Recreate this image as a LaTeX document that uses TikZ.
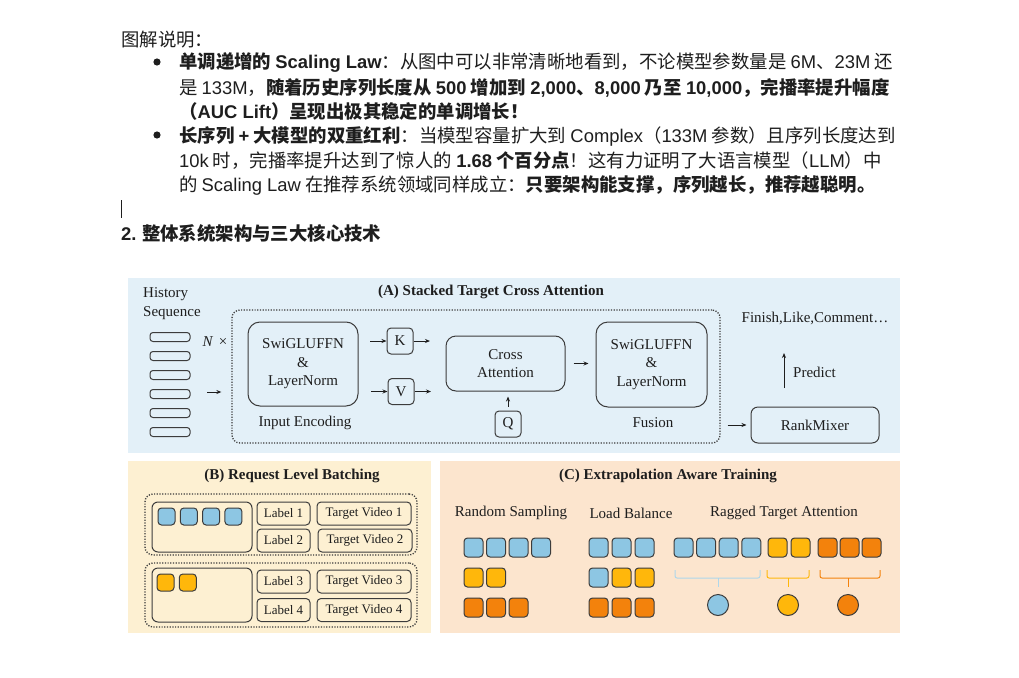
\documentclass[tikz,border=0pt]{standalone}
\usepackage{fontspec}
\setmainfont{Liberation Serif}
\newfontfamily\cjk{Noto Sans CJK SC}
\newfontfamily\lat{Liberation Sans}
\usetikzlibrary{arrows.meta}

\newcommand\la[1]{{\lat #1}}

\definecolor{paneA}{HTML}{E3F0F8}
\definecolor{paneB}{HTML}{FDF0D2}
\definecolor{paneC}{HTML}{FCE5CE}
\definecolor{tokblue}{HTML}{8DC6E3}
\definecolor{tokyellow}{HTML}{FFB70B}
\definecolor{tokorange}{HTML}{F3820C}
\definecolor{edge}{HTML}{3C3C3C}
\definecolor{ink}{HTML}{1E1E1E}

\tikzset{
  txt/.style={anchor=base west, inner sep=0pt, text=ink, font=\cjk\fontsize{18.4}{22}\selectfont},
  lbl/.style={inner sep=0pt, text=ink, align=center, font=\fontsize{15}{18.5}\selectfont},
  small/.style={inner sep=0pt, text=ink, font=\fontsize{13}{15}\selectfont},
  head/.style={inner sep=0pt, text=ink, font=\bfseries\fontsize{15}{18}\selectfont},
  blk/.style={draw=edge, line width=1pt, rounded corners=#1, inner sep=0pt},
  blk/.default=10pt,
  dotbox/.style={draw=edge, line width=1.3pt, dash pattern=on 1.2pt off 1.5pt, rounded corners=8pt, inner sep=0pt},
  tok/.style={fill=#1, draw=edge, line width=1pt, rounded corners=3.5pt},
  arr/.style={-{Stealth[length=5pt,width=4pt]}, line width=1pt, draw=ink},
  brace/.style={draw=#1, line width=1pt, rounded corners=2pt}
}

\begin{document}
\begin{tikzpicture}[x=1pt, y=-1pt]
\useasboundingbox (0,0) rectangle (1019,677);
\fill[white] (0,0) rectangle (1019,677);

% caption text
\node[txt] (cap) at (121,47) {图解说明：};
\fill[ink] (157,62) circle (3.6pt);
\node[txt] (b1a) at (179,69) {{\bfseries 单调递增的 \la{Scaling Law}}：从图中可以非常清晰地看到，不论模型参数量是 \la{6M}、\la{23M} 还};
\node[txt] (b1b) at (179,94) {是 \la{133M}，{\bfseries 随着历史序列长度从 \la{500} 增加到 \la{2,000}、\la{8,000} 乃至 \la{10,000}，完播率提升幅度}};
\node[txt] (b1c) at (179,118) {\bfseries （\la{AUC Lift}）呈现出极其稳定的单调增长！};
\fill[ink] (157,135) circle (3.6pt);
\node[txt] (b2a) at (179,142) {{\bfseries 长序列 \la{+} 大模型的双重红利}：当模型容量扩大到 \la{Complex}（\la{133M} 参数）且序列长度达到};
\node[txt] (b2b) at (179,167) {\la{10k} 时，完播率提升达到了惊人的 {\bfseries\la{1.68} 个百分点}！这有力证明了大语言模型（\la{LLM}）中};
\node[txt] (b2c) at (179,191) {的 \la{Scaling Law} 在推荐系统领域同样成立：{\bfseries 只要架构能支撑，序列越长，推荐越聪明。}};
\draw[ink, line width=1.6pt] (121.5,200) -- (121.5,218);
\node[txt, font=\cjk\bfseries\fontsize{18.4}{22}\selectfont] (sec) at (121,240) {\la{2.} 整体系统架构与三大核心技术};

% panel backgrounds
\fill[paneA] (128,278) rectangle (900,453);
\fill[paneB] (128,461) rectangle (431,633);
\fill[paneC] (440,461) rectangle (900,633);

% (A) stacked target cross attention
\node[head] (titleA) at (491,292) {(A) Stacked Target Cross Attention};
\node[lbl, anchor=west, align=left] (hist) at (143,303.5) {History\\Sequence};
\foreach \y in {337,356,375,394,413,432}
  \draw[edge, line width=1pt, rounded corners=3pt] (150,\y-4.5) rectangle (190,\y+4.5);
\node[lbl] (nx) at (215,342) {{\itshape N}\, ×};
\node[dotbox, minimum width=488pt, minimum height=133pt] (frame) at (476,376.5) {};
\node[blk=12pt, lbl, minimum width=110pt, minimum height=84pt] (swi1) at (303,364) {SwiGLUFFN\\\&\\LayerNorm};
\node[lbl] (enc) at (305,423) {Input Encoding};
\node[blk=4pt, lbl, minimum width=26pt, minimum height=26pt] (kbox) at (400,341) {K};
\node[blk=4pt, lbl, minimum width=26pt, minimum height=26pt] (vbox) at (401,391.5) {V};
\node[blk=10pt, lbl, minimum width=119pt, minimum height=55pt] (cross) at (505.5,363.5) {Cross\\Attention};
\node[blk=4pt, lbl, minimum width=26pt, minimum height=26pt] (qbox) at (508,424) {Q};
\node[blk=12pt, lbl, minimum width=111pt, minimum height=85pt] (swi2) at (651.5,364.5) {SwiGLUFFN\\\&\\LayerNorm};
\node[lbl] (fusion) at (653,423) {Fusion};
\node[blk=7pt, lbl, minimum width=128pt, minimum height=36pt] (rank) at (815,425) {RankMixer};
\node[lbl] (finish) at (815,318) {Finish,Like,Comment…};
\node[lbl, anchor=west] (predict) at (793,372) {Predict};
\coordinate (hin) at (207,392);
\coordinate (kin) at (370,341);
\coordinate (kout) at (430,341);
\coordinate (vin) at (371,391.5);
\coordinate (vout) at (431,391.5);
\coordinate (pfrom) at (784,388);
\coordinate (pto) at (784,353);
\draw[arr, shorten >=10pt] (hin) -- (hin -| frame.west);
\draw[arr] (kin) -- (kbox);
\draw[arr] (kbox) -- (kout);
\draw[arr] (vin) -- (vbox);
\draw[arr] (vbox) -- (vout);
\draw[arr, shorten <=4pt, shorten >=5pt] (qbox.north) -- (qbox.north |- cross.south);
\draw[arr, shorten <=8pt, shorten >=7pt] (cross.east) -- (cross.east -| swi2.west);
\draw[arr, shorten <=7pt, shorten >=4pt] (frame.east |- rank.west) -- (rank.west);
\draw[arr] (pfrom) -- (pto);

% (B) request level batching
\node[head] (titleB) at (292,476) {(B) Request Level Batching};
\node[dotbox, minimum width=272pt, minimum height=61pt] (grp1) at (281,524.5) {};
\node[dotbox, minimum width=272pt, minimum height=64pt] (grp2) at (281,595) {};
\node[blk=6pt, minimum width=100pt, minimum height=50pt] (req1) at (202,527) {};
\node[blk=6pt, minimum width=100pt, minimum height=54pt] (req2) at (202,595) {};
\foreach \i in {0,...,3}
  \draw[tok=tokblue] (158+22.3*\i,508) rectangle ++(17,17);
\foreach \i in {0,1}
  \draw[tok=tokyellow] (157+22.3*\i,574) rectangle ++(17,17);
\node[blk=4pt, small, minimum width=53pt, minimum height=23pt] (lab1) at (283.5,513.5) {Label 1};
\node[blk=4pt, small, minimum width=53pt, minimum height=23pt] (lab2) at (283.5,540.5) {Label 2};
\node[blk=4pt, small, minimum width=53pt, minimum height=23pt] (lab3) at (283.5,581.5) {Label 3};
\node[blk=4pt, small, minimum width=53pt, minimum height=23pt] (lab4) at (283.5,610) {Label 4};
\node[blk=4pt, small, minimum width=94pt, minimum height=23pt] (tv1) at (364,513.5) {Target Video 1};
\node[blk=4pt, small, minimum width=94pt, minimum height=23pt] (tv2) at (365,540.5) {Target Video 2};
\node[blk=4pt, small, minimum width=94pt, minimum height=23pt] (tv3) at (364,581.5) {Target Video 3};
\node[blk=4pt, small, minimum width=94pt, minimum height=23pt] (tv4) at (364,610) {Target Video 4};

% (C) extrapolation aware training
\node[head] (titleC) at (668,476) {(C) Extrapolation Aware Training};
\node[lbl] (rs) at (511,513) {Random Sampling};
\node[lbl] (lb) at (631,513) {Load Balance};
\node[lbl] (rta) at (784,513) {Ragged Target Attention};
% random sampling
\foreach \i in {0,...,3}
  \draw[tok=tokblue] (464+22.5*\i,538) rectangle ++(19,19);
\foreach \i in {0,1}
  \draw[tok=tokyellow] (464+22.5*\i,568) rectangle ++(19,19);
\foreach \i in {0,...,2}
  \draw[tok=tokorange] (464+22.5*\i,598) rectangle ++(19,19);
% load balance
\foreach \i in {0,...,2}
  \draw[tok=tokblue] (589+23*\i,538) rectangle ++(19,19);
\draw[tok=tokblue] (589,568) rectangle ++(19,19);
\foreach \i in {1,2}
  \draw[tok=tokyellow] (589+23*\i,568) rectangle ++(19,19);
\foreach \i in {0,...,2}
  \draw[tok=tokorange] (589+23*\i,598) rectangle ++(19,19);
% ragged target attention
\foreach \i in {0,...,3}
  \draw[tok=tokblue] (674+22.6*\i,538) rectangle ++(19,19);
\foreach \i in {0,1}
  \draw[tok=tokyellow] (768+23*\i,538) rectangle ++(19,19);
\foreach \i in {0,...,2}
  \draw[tok=tokorange] (818+22*\i,538) rectangle ++(19,19);
\draw[brace=tokblue!70!white] (675,570) -- (675,578) -- (760,578) -- (760,570);
\draw[tokblue!70!white, line width=1pt] (718,578) -- (718,587);
\draw[brace=tokyellow] (767,570) -- (767,578) -- (809,578) -- (809,570);
\draw[tokyellow, line width=1pt] (788,578) -- (788,587);
\draw[brace=tokorange] (820,570) -- (820,578) -- (880,578) -- (880,570);
\draw[tokorange, line width=1pt] (848,578) -- (848,587);
\draw[tok=tokblue] (718,605) circle (10.5pt);
\draw[tok=tokyellow] (788,605) circle (10.5pt);
\draw[tok=tokorange] (848,605) circle (10.5pt);
\end{tikzpicture}
\end{document}
